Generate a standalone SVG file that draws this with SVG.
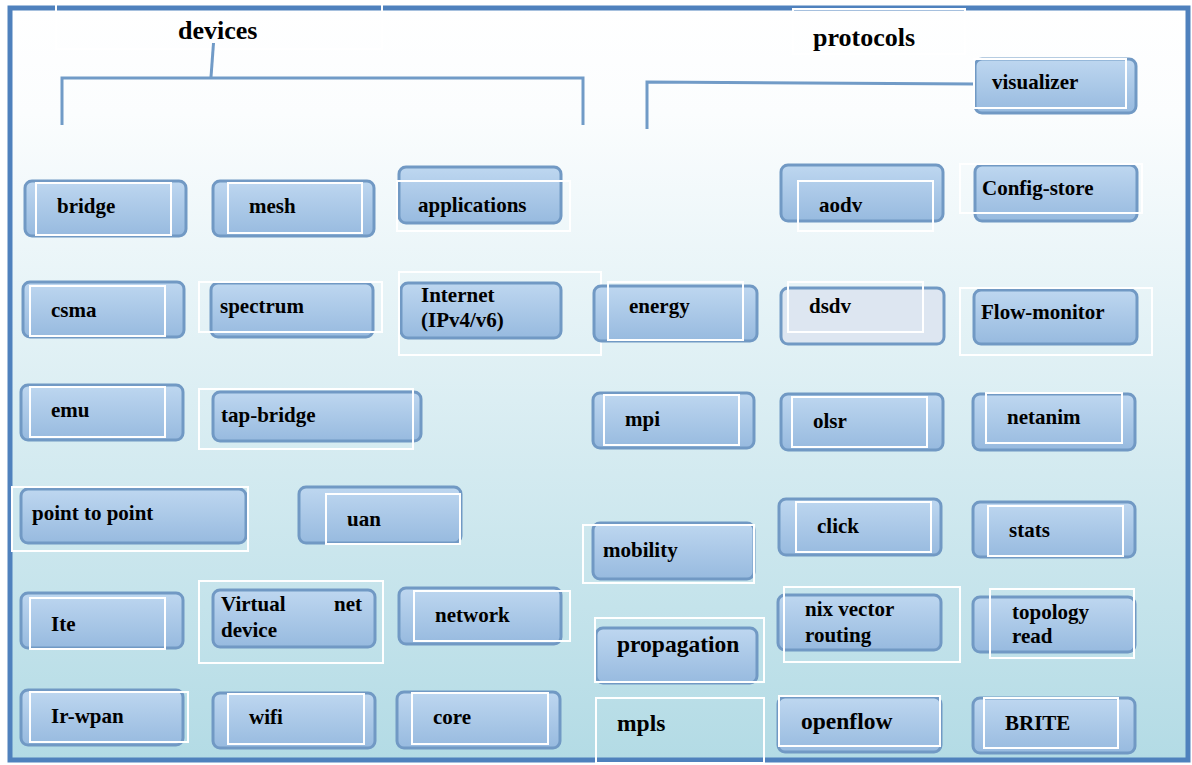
<svg xmlns="http://www.w3.org/2000/svg" width="1192" height="765" viewBox="0 0 1192 765">
  <style>
    .box { fill: url(#boxFill); stroke: #7199c4; stroke-width: 3; }
    .box-plain { fill: #dde6f1; stroke: #7199c4; stroke-width: 3; }
    .tb { fill: none; stroke: #ffffff; stroke-width: 2; }
    .t { font-family: "Liberation Serif", "Times New Roman", serif; font-weight: bold; font-size: 21px; fill: #000; }
    .tl { font-size: 23.5px; }
    .head { font-family: "Liberation Serif", "Times New Roman", serif; font-weight: bold; font-size: 26px; fill: #000; }
    .conn { fill: none; stroke: #719bc7; stroke-width: 3; }
  </style>
  <defs>
    <linearGradient id="bg" x1="0" y1="0" x2="0" y2="1">
      <stop offset="0" stop-color="#ffffff"/>
      <stop offset="0.14" stop-color="#fbfdfe"/>
      <stop offset="1" stop-color="#b3dbe5"/>
    </linearGradient>
    <linearGradient id="boxFill" x1="0" y1="0" x2="0" y2="1">
      <stop offset="0" stop-color="#bed7f0"/>
      <stop offset="1" stop-color="#97badf"/>
    </linearGradient>
  </defs>

  <!-- page and frame -->
  <rect x="0" y="0" width="1192" height="765" fill="#ffffff"/>
  <rect x="10" y="8" width="1178" height="752" fill="url(#bg)" stroke="#4f81bd" stroke-width="5"/>

  <!-- heading text boxes -->
  <rect class="tb" x="56" y="3" width="326" height="46"/>
  <rect class="tb" x="793" y="9" width="172" height="45"/>
  <text class="head" x="178" y="39">devices</text>
  <text class="head" x="813" y="46">protocols</text>

  <!-- connectors -->
  <g id="connectors">
    <path class="conn" d="M213.5,43 L211,77"/>
    <path class="conn" d="M62,125 L62,78 L583,78 L583,125"/>
    <path class="conn" d="M647,129 L647,82 L976,84"/>
  </g>

  <!-- devices -->
  <g id="node-bridge">
    <rect class="box" x="25" y="181" width="161" height="55" rx="7"/>
    <rect class="tb" x="36" y="183" width="135" height="52"/>
    <text class="t" x="57" y="213">bridge</text>
  </g>
  <g id="node-mesh">
    <rect class="box" x="213" y="181" width="161" height="55" rx="7"/>
    <rect class="tb" x="228" y="183" width="134" height="50"/>
    <text class="t" x="249" y="213">mesh</text>
  </g>
  <g id="node-applications">
    <rect class="box" x="399" y="167" width="162" height="56" rx="7"/>
    <rect class="tb" x="397" y="181" width="173" height="50"/>
    <text class="t" x="418" y="212">applications</text>
  </g>
  <g id="node-csma">
    <rect class="box" x="23" y="282" width="161" height="55" rx="7"/>
    <rect class="tb" x="30" y="286" width="135" height="50"/>
    <text class="t" x="51" y="317">csma</text>
  </g>
  <g id="node-spectrum">
    <rect class="box" x="211" y="283" width="162" height="54" rx="7"/>
    <rect class="tb" x="199" y="282" width="183" height="50"/>
    <text class="t" x="220" y="313">spectrum</text>
  </g>
  <g id="node-internet">
    <rect class="box" x="401" y="283" width="160" height="55" rx="7"/>
    <rect class="tb" x="399" y="272" width="202" height="83"/>
    <text class="t" x="421" y="302">Internet</text>
    <text class="t" x="421" y="327">(IPv4/v6)</text>
  </g>
  <g id="node-emu">
    <rect class="box" x="21" y="385" width="162" height="55" rx="7"/>
    <rect class="tb" x="30" y="387" width="135" height="50"/>
    <text class="t" x="51" y="417">emu</text>
  </g>
  <g id="node-tap-bridge">
    <rect class="box" x="213" y="392" width="208" height="49" rx="7"/>
    <rect class="tb" x="199" y="389" width="214" height="60"/>
    <text class="t" x="221" y="422">tap-bridge</text>
  </g>
  <g id="node-point-to-point">
    <rect class="box" x="21" y="489" width="225" height="54" rx="7"/>
    <rect class="tb" x="12" y="487" width="236" height="64"/>
    <text class="t" x="32" y="520">point to point</text>
  </g>
  <g id="node-uan">
    <rect class="box" x="299" y="487" width="162" height="56" rx="7"/>
    <rect class="tb" x="326" y="494" width="134" height="50"/>
    <text class="t" x="347" y="526">uan</text>
  </g>
  <g id="node-lte">
    <rect class="box" x="21" y="593" width="162" height="55" rx="7"/>
    <rect class="tb" x="30" y="598" width="135" height="51"/>
    <text class="t" x="51" y="631">Ite</text>
  </g>
  <g id="node-virtual-net-device">
    <rect class="box" x="213" y="590" width="162" height="57" rx="7"/>
    <rect class="tb" x="199" y="581" width="184" height="82"/>
    <text class="t" x="221" y="611">Virtual</text>
    <text class="t" x="362" y="611" text-anchor="end">net</text>
    <text class="t" x="221" y="637">device</text>
  </g>
  <g id="node-network">
    <rect class="box" x="399" y="588" width="162" height="56" rx="7"/>
    <rect class="tb" x="414" y="591" width="156" height="50"/>
    <text class="t" x="435" y="622">network</text>
  </g>
  <g id="node-lr-wpan">
    <rect class="box" x="21" y="690" width="162" height="55" rx="7"/>
    <rect class="tb" x="30" y="692" width="158" height="50"/>
    <text class="t" x="51" y="723">Ir-wpan</text>
  </g>
  <g id="node-wifi">
    <rect class="box" x="213" y="693" width="162" height="55" rx="7"/>
    <rect class="tb" x="228" y="694" width="136" height="50"/>
    <text class="t" x="249" y="724">wifi</text>
  </g>
  <g id="node-core">
    <rect class="box" x="397" y="692" width="163" height="56" rx="7"/>
    <rect class="tb" x="412" y="693" width="136" height="51"/>
    <text class="t" x="433" y="724">core</text>
  </g>

  <!-- middle column -->
  <g id="node-energy">
    <rect class="box" x="594" y="286" width="163" height="55" rx="7"/>
    <rect class="tb" x="608" y="282" width="135" height="58"/>
    <text class="t" x="629" y="313">energy</text>
  </g>
  <g id="node-mpi">
    <rect class="box" x="593" y="393" width="161" height="55" rx="7"/>
    <rect class="tb" x="604" y="395" width="135" height="50"/>
    <text class="t" x="625" y="426">mpi</text>
  </g>
  <g id="node-mobility">
    <rect class="box" x="593" y="523" width="161" height="56" rx="7"/>
    <rect class="tb" x="583" y="525" width="171" height="58"/>
    <text class="t" x="603" y="557">mobility</text>
  </g>
  <g id="node-propagation">
    <rect class="box" x="596" y="628" width="161" height="55" rx="7"/>
    <rect class="tb" x="595" y="618" width="169" height="64"/>
    <text class="t tl" x="617" y="652">propagation</text>
  </g>
  <g id="node-mpls">
    <rect class="tb" x="596" y="698" width="168" height="65"/>
    <text class="t tl" x="617" y="731">mpls</text>
  </g>

  <!-- protocols -->
  <g id="node-aodv">
    <rect class="box" x="781" y="165" width="162" height="56" rx="7"/>
    <rect class="tb" x="798" y="181" width="135" height="50"/>
    <text class="t" x="819" y="212">aodv</text>
  </g>
  <g id="node-dsdv">
    <rect class="box-plain" x="781" y="288" width="163" height="56" rx="7"/>
    <rect class="tb" x="788" y="282" width="135" height="50"/>
    <text class="t" x="809" y="313">dsdv</text>
  </g>
  <g id="node-olsr">
    <rect class="box" x="781" y="394" width="162" height="56" rx="7"/>
    <rect class="tb" x="792" y="397" width="135" height="50"/>
    <text class="t" x="813" y="428">olsr</text>
  </g>
  <g id="node-click">
    <rect class="box" x="779" y="499" width="162" height="56" rx="7"/>
    <rect class="tb" x="796" y="502" width="135" height="50"/>
    <text class="t" x="817" y="533">click</text>
  </g>
  <g id="node-nix-vector-routing">
    <rect class="box" x="778" y="595" width="163" height="55" rx="7"/>
    <rect class="tb" x="784" y="587" width="176" height="75"/>
    <text class="t" x="805" y="616">nix vector</text>
    <text class="t" x="805" y="642">routing</text>
  </g>
  <g id="node-openflow">
    <rect class="box" x="778" y="697" width="163" height="55" rx="7"/>
    <rect class="tb" x="779" y="696" width="161" height="50"/>
    <text class="t tl" x="801" y="729">openflow</text>
  </g>

  <!-- right column -->
  <g id="node-visualizer">
    <rect class="box" x="975" y="59" width="161" height="54" rx="7"/>
    <rect class="tb" x="974" y="59" width="152" height="49"/>
    <text class="t" x="992" y="89">visualizer</text>
  </g>
  <g id="node-config-store">
    <rect class="box" x="975" y="165" width="162" height="56" rx="7"/>
    <rect class="tb" x="960" y="164" width="182" height="49"/>
    <text class="t" x="982" y="195">Config-store</text>
  </g>
  <g id="node-flow-monitor">
    <rect class="box" x="974" y="290" width="163" height="54" rx="7"/>
    <rect class="tb" x="960" y="288" width="192" height="67"/>
    <text class="t" x="981" y="319">Flow-monitor</text>
  </g>
  <g id="node-netanim">
    <rect class="box" x="973" y="394" width="162" height="56" rx="7"/>
    <rect class="tb" x="986" y="393" width="136" height="50"/>
    <text class="t" x="1007" y="424">netanim</text>
  </g>
  <g id="node-stats">
    <rect class="box" x="973" y="502" width="162" height="55" rx="7"/>
    <rect class="tb" x="988" y="506" width="135" height="50"/>
    <text class="t" x="1009" y="537">stats</text>
  </g>
  <g id="node-topology-read">
    <rect class="box" x="973" y="597" width="162" height="55" rx="7"/>
    <rect class="tb" x="990" y="589" width="144" height="69"/>
    <text class="t" x="1012" y="619">topology</text>
    <text class="t" x="1012" y="643">read</text>
  </g>
  <g id="node-brite">
    <rect class="box" x="973" y="698" width="162" height="55" rx="7"/>
    <rect class="tb" x="984" y="698" width="134" height="50"/>
    <text class="t" x="1005" y="730">BRITE</text>
  </g>
</svg>
